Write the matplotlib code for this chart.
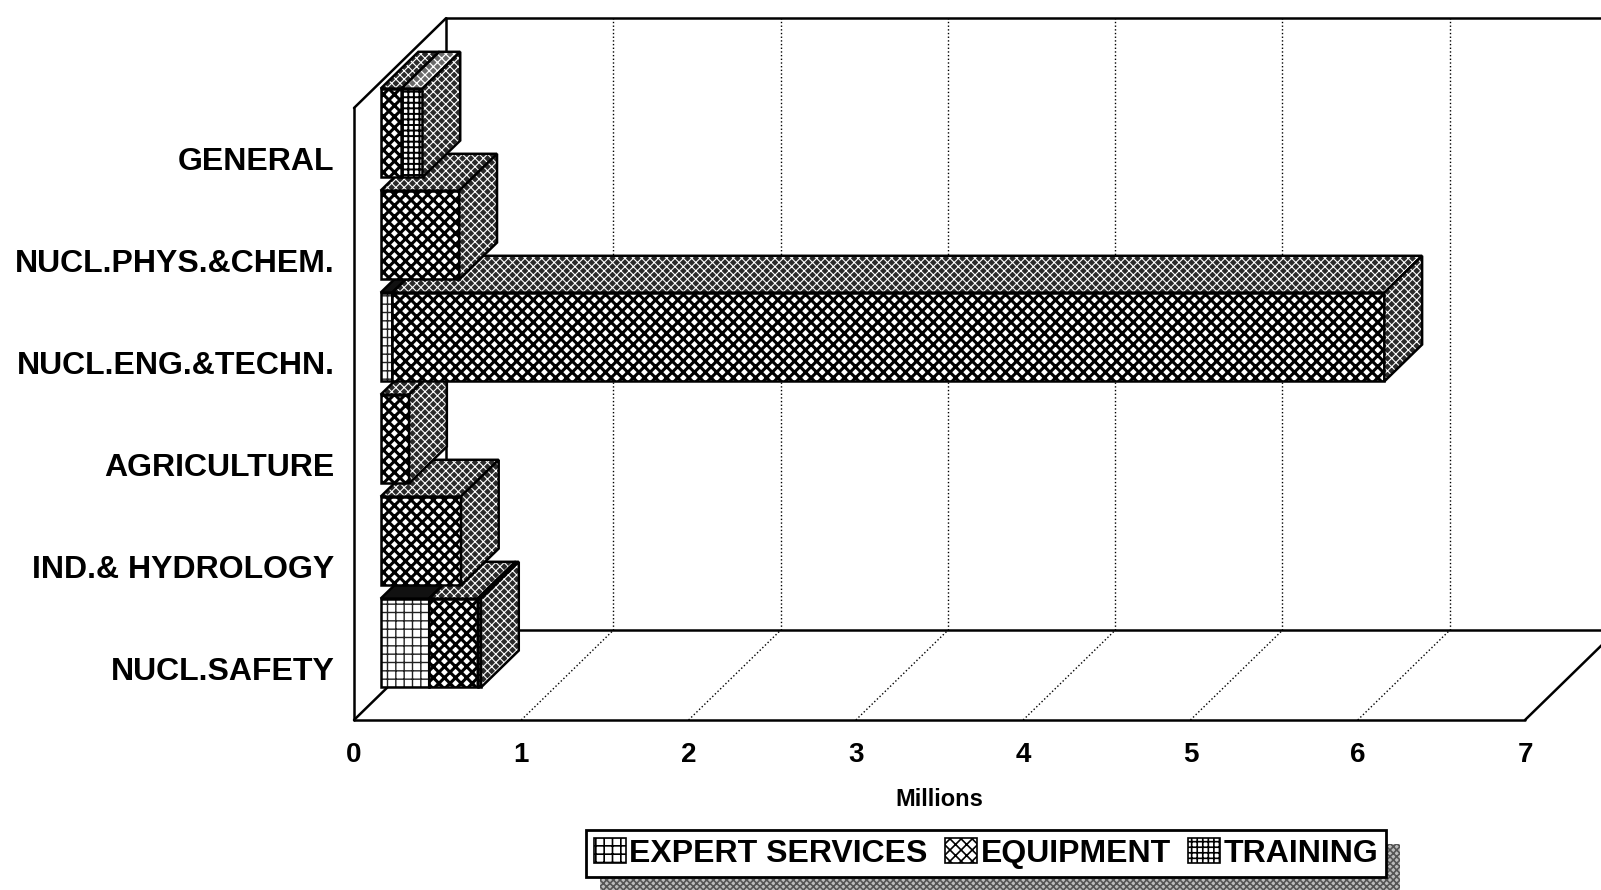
import matplotlib
matplotlib.use("Agg")
import matplotlib.pyplot as plt
from matplotlib.patches import Polygon, Patch, Rectangle

plt.rcParams['font.family'] = ['Liberation Sans', 'DejaVu Sans']
plt.rcParams['font.weight'] = 'bold'
plt.rcParams['hatch.linewidth'] = 1.2

# data (millions), bottom category first
categories = ['NUCL.SAFETY', 'IND.& HYDROLOGY', 'AGRICULTURE',
              'NUCL.ENG.&TECHN.', 'NUCL.PHYS.&CHEM.', 'GENERAL']
expert = [0.29, 0.0, 0.0, 0.07, 0.0, 0.0]
equipment = [0.29, 0.48, 0.17, 5.93, 0.47, 0.125]
training = [0.02, 0.0, 0.0, 0.0, 0.0, 0.125]
series_names = ['EXPERT SERVICES', 'EQUIPMENT', 'TRAINING']
xticks = [0, 1, 2, 3, 4, 5, 6, 7]

DX, DY = 0.55, 0.88     # depth of the 3d box (x in millions, y in category units)
F0, F1 = 0.29, 0.70     # front / back depth of the bars
H = 0.435               # half bar thickness

# front, top, side styles per series: (facecolor, hatch, hatchcolor, hatch lw)
styles = [
    [('white', '++', '#222222', 1.0), ('#111111', None, None, 0), ('#2a2a2a', 'xxxx', 'white', 0.7)],
    [('white', 'xxx', 'black', 2.2), ('#2a2a2a', 'xxxx', 'white', 0.8), ('#2a2a2a', 'xxxx', 'white', 0.8)],
    [('white', '+++', 'black', 1.4), ('#6a6a6a', 'xxxx', 'white', 0.9), ('#2a2a2a', 'xxxx', 'white', 0.8)],
]

fig = plt.figure(figsize=(16.01, 8.90), dpi=100)
ax = fig.add_axes([354/1601, 1-720/890, (1525-354)/1601, 612/890])
ax.set_xlim(0, 7)
ax.set_ylim(-0.5, 5.5)
ax.patch.set_visible(False)
for s in ax.spines.values():
    s.set_visible(False)


def line(xs, ys, ls='-', lw=1.8, z=1):
    ax.plot(xs, ys, color='black', ls=ls, lw=lw, zorder=z, clip_on=False,
            solid_capstyle='round')


def hatched(pts, hatch, hc, hlw, **kw):
    p = Polygon(pts, closed=True, facecolor='none', edgecolor=hc, hatch=hatch, lw=0, **kw)
    if hasattr(p, 'set_hatch_linewidth'):
        p.set_hatch_linewidth(hlw)
    return p


def face(pts, fc, hatch=None, hc='black', hlw=1.2):
    ax.add_patch(Polygon(pts, closed=True, facecolor=fc, edgecolor='none',
                         lw=0, zorder=3, clip_on=False))
    if hatch:
        ax.add_patch(hatched(pts, hatch, hc, hlw, zorder=3, clip_on=False))
    ax.add_patch(Polygon(pts, closed=True, facecolor='none', edgecolor='black',
                         lw=1.8, zorder=3, clip_on=False, joinstyle='miter'))


# walls and floor
y0, y1 = -0.5, 5.5
line([0, 7], [y0, y0])
line([DX, 7 + DX + 0.3], [y0 + DY, y0 + DY])
line([7, 7 + DX], [y0, y0 + DY])
line([0, 0], [y0, y1])
line([0, DX], [y0, y0 + DY])
line([0, DX], [y1, y1 + DY])
line([DX, DX], [y0 + DY, y1 + DY])
line([DX, 7 + DX + 0.3], [y1 + DY, y1 + DY])
for k in xticks[1:-1]:
    line([k + DX, k + DX], [y0 + DY, y1 + DY], ls=':', lw=1.0)
    line([k, k + DX], [y0, y0 + DY], ls=':', lw=1.0)

# stacked 3d bars
for i in range(len(categories)):
    start = 0.0
    for j, vals in enumerate([expert, equipment, training]):
        v = vals[i]
        if v <= 0:
            continue
        s, e = start, start + v
        start = e
        lo, hi = i - H, i + H
        front = [(s + F0*DX, lo + F0*DY), (e + F0*DX, lo + F0*DY),
                 (e + F0*DX, hi + F0*DY), (s + F0*DX, hi + F0*DY)]
        top = [(s + F0*DX, hi + F0*DY), (e + F0*DX, hi + F0*DY),
               (e + F1*DX, hi + F1*DY), (s + F1*DX, hi + F1*DY)]
        side = [(e + F0*DX, lo + F0*DY), (e + F1*DX, lo + F1*DY),
                (e + F1*DX, hi + F1*DY), (e + F0*DX, hi + F0*DY)]
        for pts, st in zip([front, top, side], styles[j]):
            face(pts, *st)

ax.set_xticks(xticks)
ax.set_xticklabels([str(t) for t in xticks], fontsize=20, fontweight='bold')
ax.set_yticks(range(len(categories)))
ax.set_yticklabels(categories, fontsize=23, fontweight='bold')
ax.tick_params(axis='x', length=0, pad=16)
ax.tick_params(axis='y', length=0, pad=14)
ax.set_xlabel('Millions', fontsize=17, fontweight='bold', labelpad=14)

handles = []
for st in styles:
    h = Patch(facecolor='white', edgecolor='black', hatch=st[0][1], lw=1.2)
    if hasattr(h, 'set_hatch_linewidth'):
        h.set_hatch_linewidth(1.2)
    handles.append(h)
leg = fig.legend(handles, series_names, loc='center', bbox_to_anchor=(0.616, 0.041),
                 ncol=3, fontsize=23, frameon=True, fancybox=False, edgecolor='black',
                 handlelength=1.0, handleheight=0.8, handletextpad=0.1,
                 columnspacing=0.55, borderpad=0.25)
leg.get_frame().set_linewidth(2)
leg.get_frame().set_alpha(None)
leg.get_frame().set_facecolor('white')

fig.canvas.draw()
bb = leg.get_window_extent().transformed(fig.transFigure.inverted())
ox, oy = 14/1601, 14/890
fig.patches.append(Rectangle((bb.x0 + ox, bb.y0 - oy), bb.width, bb.height,
                             transform=fig.transFigure, facecolor='#bbbbbb',
                             edgecolor='#555555', hatch='xxxxx', lw=0, zorder=4))

fig.savefig('out.png', dpi=100)
